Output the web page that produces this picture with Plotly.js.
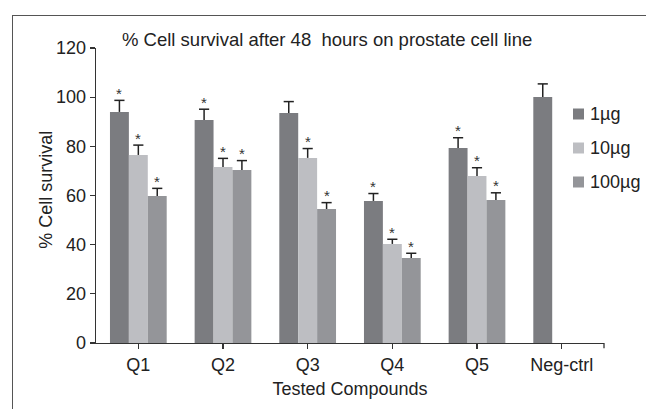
<!DOCTYPE html>
<html><head><meta charset="utf-8">
<script src="https://cdn.plot.ly/plotly-3.0.1.min.js"></script>
<style>
body{margin:0;padding:0;background:#fff}
#wrap{position:relative;width:646px;height:409px;overflow:hidden}
#chart{width:646px;height:409px}
#frame{position:absolute;left:12px;top:15px;right:-10px;bottom:-10px;border-left:1.5px solid #555;border-top:1.5px solid #555;pointer-events:none}
</style>
</head><body><div id="wrap"><div id="chart"></div><div id="frame"></div></div>
<script>
var categories = ['Q1','Q2','Q3','Q4','Q5','Neg-ctrl'];
var seriesNames = ['1\u00b5g','10\u00b5g','100\u00b5g'];
var vals1 = [94.0, 90.7, 93.6, 57.8, 79.3, 100.1];
var err1 = [4.7, 4.4, 4.6, 3.0, 4.2, 5.3];
var vals10 = [76.5, 71.6, 75.3, 40.3, 67.9, null];
var err10 = [4.0, 3.5, 3.8, 1.9, 3.4, null];
var vals100 = [59.8, 70.4, 54.5, 34.6, 58.2, null];
var err100 = [3.1, 3.8, 2.6, 1.9, 2.9, null];
var star1 = [true, true, false, true, true, false];
var star10 = [true, true, true, true, true, false];
var star100 = [true, true, true, true, true, false];
var colors = ['#7b7c80', '#bdbec2', '#949599'];

var FONT = 'Liberation Sans, Arial, sans-serif';
var allVals = [vals1, vals10, vals100];
var allErr = [err1, err10, err100];
var allStars = [star1, star10, star100];
var bargap = 0.33;
var barW = (1 - bargap) / 3;   // category fraction per bar
var capHalf = 0.06;            // category fraction

// plot-area geometry (px) used to convert legend placement to paper coords
var ML = 96, MR = 42, MT = 48, MB = 66, W = 646, H = 409;
var PW = W - ML - MR, PH = H - MT - MB;
function px2x(px){ return (px - ML) / PW; }
function py2y(py){ return (H - MB - py) / PH; }

var traces = allVals.map(function(v, i){
  return {
    type: 'bar', name: seriesNames[i], x: categories, y: v,
    marker: {color: colors[i], line: {width: 0}},
    error_y: {type: 'data', array: allErr[i], arrayminus: allErr[i].map(function(){return 0;}),
      symmetric: false, color: '#222', thickness: 1.5, width: 0},
    showlegend: false
  };
});

var annotations = [];
var shapes = [];
allVals.forEach(function(v, i){
  v.forEach(function(val, j){
    if (val === null) return;
    var top = val + allErr[i][j];
    var off = (i - 1) * barW;
    shapes.push({type: 'line', xref: 'x', yref: 'y', x0: categories[j], x1: categories[j],
      x0shift: off - capHalf, x1shift: off + capHalf, y0: top, y1: top,
      line: {color: '#222', width: 1.5}});
    if (allStars[i][j]) {
      annotations.push({
        x: categories[j], y: top, xref: 'x', yref: 'y',
        text: '*', showarrow: false, xshift: (i - 1) * barW * PW / 6, yshift: 7,
        yanchor: 'middle', font: {family: FONT, size: 15, color: '#333'}
      });
    }
  });
});

// legend (drawn as boxes + labels)
seriesNames.forEach(function(name, i){
  var cy = 114 + 34 * i;
  shapes.push({type: 'rect', xref: 'paper', yref: 'paper',
    x0: px2x(573), x1: px2x(584), y0: py2y(cy + 5.5), y1: py2y(cy - 5.5),
    fillcolor: colors[i], line: {width: 0}});
  annotations.push({text: name, xref: 'paper', yref: 'paper', x: px2x(588), y: py2y(cy),
    xanchor: 'left', yanchor: 'middle', showarrow: false,
    font: {family: FONT, size: 18, color: '#222'}});
});

annotations.push({
  text: '% Cell survival after 48\u00a0 hours on prostate cell line',
  xref: 'paper', yref: 'paper', x: 0.047, y: 1.030, xanchor: 'left', yanchor: 'middle',
  showarrow: false, font: {family: FONT, size: 18.5, color: '#222'}
});
annotations.push({
  text: '% Cell survival', textangle: -90,
  xref: 'paper', yref: 'paper', x: -0.1, y: 0.52, xanchor: 'center', yanchor: 'middle',
  showarrow: false, font: {family: FONT, size: 18, color: '#222'}
});
shapes.push({type: 'line', xref: 'paper', yref: 'paper', x0: 1, x1: 1, y0: 0, y1: -0.018,
  line: {color: '#333', width: 1.3}});

var layout = {
  width: W, height: H,
  margin: {l: ML, r: MR, t: MT, b: MB, autoexpand: false},
  paper_bgcolor: '#fff', plot_bgcolor: '#fff',
  barmode: 'group', bargap: bargap, bargroupgap: 0,
  font: {family: FONT, size: 18, color: '#222'},
  showlegend: false,
  xaxis: {
    type: 'category', range: [-0.5, 5.5], showgrid: false, zeroline: false,
    showline: true, linecolor: '#333', linewidth: 1.3,
    ticks: 'outside', ticklen: 5, tickcolor: '#333', tickwidth: 1.3,
    tickfont: {size: 18, color: '#222'},
    title: {text: 'Tested Compounds', font: {size: 18, color: '#222'}, standoff: 8}
  },
  yaxis: {
    range: [0, 120], tickvals: [0,20,40,60,80,100,120], showgrid: false, zeroline: false,
    showline: true, linecolor: '#333', linewidth: 1.3,
    ticks: 'outside', ticklen: 5, tickcolor: '#333', tickwidth: 1.3,
    tickfont: {size: 18, color: '#222'}
  },
  annotations: annotations,
  shapes: shapes
};

Plotly.newPlot('chart', traces, layout, {displayModeBar: false, staticPlot: true});
</script></body></html>
